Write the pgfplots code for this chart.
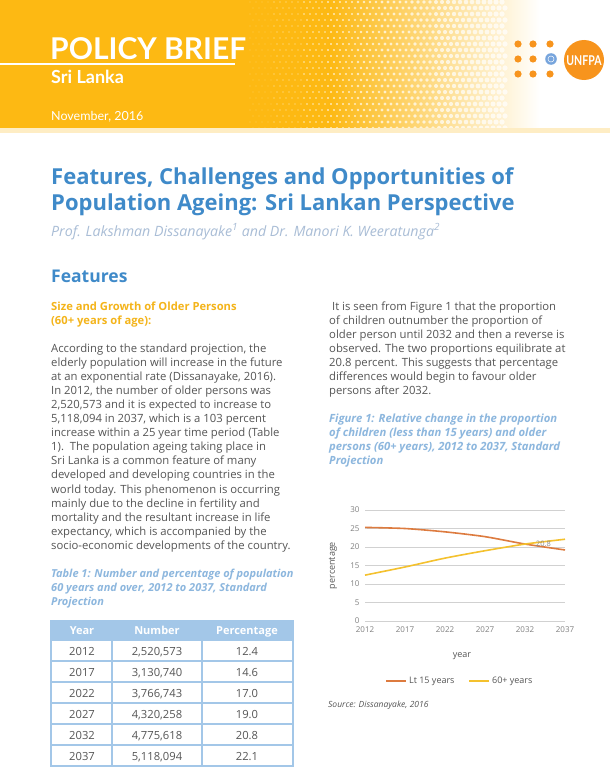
\documentclass[border=0pt]{standalone}
\usepackage{pgfplots}
\pgfplotsset{compat=1.18}
\usepackage{fontspec}
\setmainfont{Open Sans}
\newfontfamily\hdrfont{Lato}
\definecolor{hdr}{HTML}{FDB913}
\definecolor{ttl}{HTML}{3F8AC9}
\definecolor{auth}{HTML}{A9BDD6}
\definecolor{sub}{HTML}{F4B41A}
\definecolor{bodyc}{HTML}{555555}
\definecolor{capc}{HTML}{8DB7DE}
\definecolor{tblue}{HTML}{A3C7E8}
\definecolor{ltc}{HTML}{DD7B3F}
\definecolor{oldc}{HTML}{F4C12E}
\definecolor{unor}{HTML}{F7941D}
\newcommand\fs[1]{\fontsize{#1bp}{#1bp}\selectfont}
\begin{document}
\begin{tikzpicture}
\begin{scope}[x=1bp,y=-1bp]
\path[use as bounding box] (0,0) rectangle (610,771);
\fill[white] (0,0) rectangle (610,771);
% header band
\fill[hdr] (0,0) rectangle (330,131);
\shade[left color=hdr, right color=white] (329.5,0) rectangle (540,131);
\foreach \i in {0,...,42} {
  \foreach \j in {0,...,21} {
    \pgfmathsetmacro\xx{250+\i*6+mod(\j,2)*3}
    \pgfmathsetmacro\rr{0.3+\i*0.055}
    \fill[white, opacity=0.7] (\xx,\j*6+2) circle[radius=\rr];
  }
}
\fill[hdr!25] (0,128) rectangle (610,133);
\draw[white, line width=1.2] (0,64) -- (235,64);
\node[anchor=base west, white, inner sep=0, font=\hdrfont\fs{30}\bfseries] at (50,60) {POLICY BRIEF};
\node[anchor=base west, white, inner sep=0, font=\hdrfont\fs{18}\bfseries] at (51,83) {Sri Lanka};
\node[anchor=base west, white, inner sep=0, font=\hdrfont\fs{12.5}] at (51,120) {November, 2016};
% logo
\foreach \x/\y in {518/44,533/44,550/44,518/59,533/59,518/74,533/74,550/74}
  \fill[unor] (\x,\y) circle[radius=3.6];
\fill[cyan!55!blue!55] (551,59) circle[radius=5.8];
\draw[white, line width=0.5] (551,59) circle[radius=3];
\fill[unor] (584,60) circle[radius=20];
\node[white, inner sep=0, font=\hdrfont\fs{13.5}\bfseries, xscale=0.78] at (584,60.5) {UNFPA};
% title
\node[anchor=base west, ttl, inner sep=0, font=\fs{22}\bfseries] at (51,184) {Features, Challenges and Opportunities of};
\node[anchor=base west, ttl, inner sep=0, font=\fs{22}\bfseries] at (51,210) {Population Ageing: Sri Lankan Perspective};
\node[anchor=base west, auth, inner sep=0, font=\fs{14.2}\itshape] at (51,236) {Prof. Lakshman Dissanayake\textsuperscript{1} and Dr. Manori K. Weeratunga\textsuperscript{2}};
\node[anchor=base west, ttl, inner sep=0, font=\fs{17.5}\bfseries] at (51,282) {Features};
\node[anchor=base west, sub, inner sep=0, font=\fs{11.2}\bfseries] at (51,310) {Size and Growth of Older Persons};
\node[anchor=base west, sub, inner sep=0, font=\fs{11.2}\bfseries] at (51,324) {(60+ years of age):};
% left body
\foreach \t [count=\k from 0] in {
According to the standard projection{,} the,
elderly population will increase in the future,
at an exponential rate (Dissanayake{,} 2016).,
In 2012{,} the number of older persons was,
2{,}520{,}573 and it is expected to increase to,
5{,}118{,}094 in 2037{,} which is a 103 percent,
increase within a 25 year time period (Table,
1).\ \ The population ageing taking place in,
Sri Lanka is a common feature of many,
developed and developing countries in the,
world today. This phenomenon is occurring,
mainly due to the decline in fertility and,
mortality and the resultant increase in life,
expectancy{,} which is accompanied by the,
socio-economic developments of the country.}
  \node[anchor=base west, bodyc, inner sep=0, font=\fs{11.3}] at (51,352+\k*14.1) {\t};
% table caption
\node[anchor=base west, capc, inner sep=0, font=\fs{11}\bfseries\itshape] at (51,577) {Table 1: Number and percentage of population};
\node[anchor=base west, capc, inner sep=0, font=\fs{11}\bfseries\itshape] at (51,591) {60 years and over, 2012 to 2037, Standard};
\node[anchor=base west, capc, inner sep=0, font=\fs{11}\bfseries\itshape] at (51,605) {Projection};
% table
\fill[tblue] (51,621) rectangle (293,640);
\foreach \y in {640,661,682,703,724,745} \draw[tblue, line width=1.5] (51,\y) -- (293,\y);
\draw[tblue, line width=1.5] (112,640) -- (112,766) (202,640) -- (202,766);
\draw[tblue, line width=1.5] (51,621) rectangle (293,766);
\node[anchor=base, white, inner sep=0, font=\fs{11}\bfseries] at (82,634.5) {Year};
\node[anchor=base, white, inner sep=0, font=\fs{11}\bfseries] at (157,634.5) {Number};
\node[anchor=base, white, inner sep=0, font=\fs{11}\bfseries] at (247,634.5) {Percentage};
\foreach \a/\b/\c [count=\k from 0] in {2012/2{,}520{,}573/12.4,2017/3{,}130{,}740/14.6,2022/3{,}766{,}743/17.0,2027/4{,}320{,}258/19.0,2032/4{,}775{,}618/20.8,2037/5{,}118{,}094/22.1} {
  \node[anchor=base, bodyc, inner sep=0, font=\fs{11.2}] at (82,655+\k*21) {\a};
  \node[anchor=base, bodyc, inner sep=0, font=\fs{11.2}] at (157,655+\k*21) {\b};
  \node[anchor=base, bodyc, inner sep=0, font=\fs{11.2}] at (247,655+\k*21) {\c};
}
% right body
\foreach \t [count=\k from 0] in {
\ It is seen from Figure 1 that the proportion,
of children outnumber the proportion of,
older person until 2032 and then a reverse is,
observed. The two proportions equilibrate at,
20.8 percent. This suggests that percentage,
differences would begin to favour older,
persons after 2032.}
  \node[anchor=base west, bodyc, inner sep=0, font=\fs{11.3}] at (329,310+\k*14.1) {\t};
\foreach \t [count=\k from 0] in {
Figure 1: Relative change in the proportion,
of children (less than 15 years) and older,
persons (60+ years){,} 2012 to 2037{,} Standard,
Projection}
  \node[anchor=base west, capc, inner sep=0, font=\fs{11.3}\bfseries\itshape] at (329,422+\k*14.2) {\t};
\node[anchor=base west, bodyc, inner sep=0, font=\fs{8.5}\itshape] at (328,707) {Source: Dissanayake, 2016};
\end{scope}
\begin{axis}[at={(365bp,-621bp)}, anchor=south west, scale only axis,
  width=200bp, height=111bp,
  xmin=2012, xmax=2037, ymin=0, ymax=30,
  xtick={2012,2017,2022,2027,2032,2037}, ytick={0,5,10,15,20,25,30},
  axis line style={draw=none}, major tick style={draw=none},
  ymajorgrids, grid style={draw=black!18, line width=0.7bp},
  /pgf/number format/assume math mode=true,
  xticklabel style={/pgf/number format/1000 sep={}, font=\fs{8}, text=black!50, yshift=-2.5bp},
  yticklabel style={font=\fs{8}, text=black!50, xshift=-2bp},
  ylabel={percentage}, xlabel={year},
  ylabel style={font=\fs{9}, text=bodyc, at={(axis description cs:-0.16,0.5)}, anchor=center},
  xlabel style={font=\fs{9}, text=bodyc, at={(axis description cs:0.485,-0.315)}, anchor=center},
  legend columns=2,
  legend style={at={(axis description cs:0.475,-0.54)}, anchor=center, draw=none, fill=none,
    font=\fs{9}, text=bodyc, /tikz/every even column/.append style={column sep=12bp}},
  legend image code/.code={\draw[#1, line width=1.6bp] (0bp,0bp) -- (20bp,0bp);},
  clip=false,
]
\addplot[ltc, line width=1.6bp, smooth, tension=0.4] coordinates {(2012,25.3) (2017,25.0) (2022,24.1) (2027,22.8) (2032,20.8) (2037,19.2)};
\addlegendentry{Lt 15 years}
\addplot[oldc, line width=1.6bp, smooth, tension=0.4] coordinates {(2012,12.4) (2017,14.6) (2022,17.0) (2027,19.0) (2032,20.8) (2037,22.1)};
\addlegendentry{60+ years}
\node[font=\fs{7.5}, text=black!45, inner sep=0] at (axis cs:2034.3,20.9) {20.8};
\end{axis}
\end{tikzpicture}
\end{document}
